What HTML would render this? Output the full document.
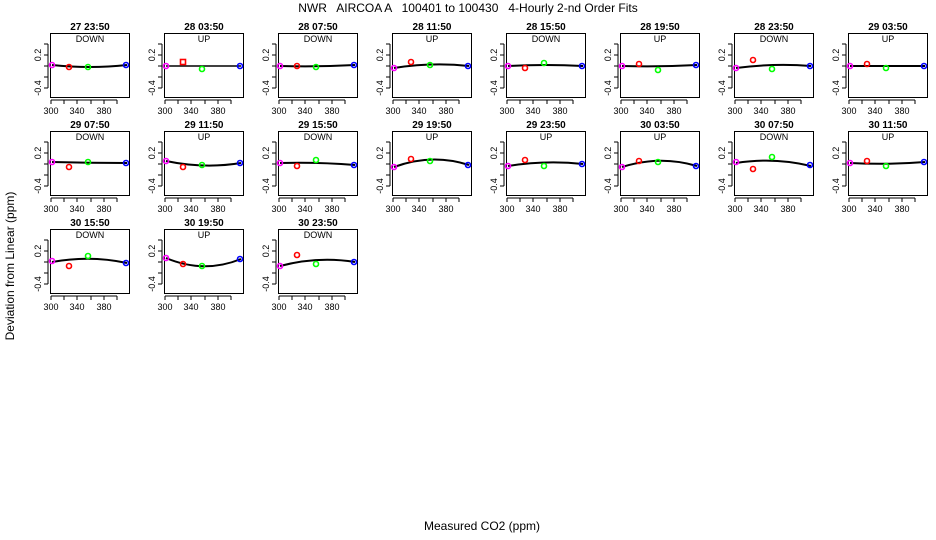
<!DOCTYPE html>
<html><head><meta charset="utf-8"><style>
body{margin:0;background:#fff}
svg{display:block;font-family:"Liberation Sans",sans-serif}
.t{font-size:10px;font-weight:bold;text-anchor:middle}
.s{font-size:9px;text-anchor:middle}
.k{font-size:9px;text-anchor:middle}
</style></head><body>
<svg width="936" height="540" viewBox="0 0 936 540">
<defs>
<g id="ax" fill="none" stroke="#000" stroke-width="1">
<rect x="0.5" y="0.5" width="79" height="64"/>
<path d="M-6,11H-2M-6,22H-2M-6,33H-2M-6,44H-2M-6,55H-2M-2,11V55"/>
<path d="M1,67V71M14,67V71M27,67V71M41,67V71M54,67V71M67,67V71M1,67H67"/>
</g>
<g id="lb" fill="#000" stroke="none">
<text class="k" x="1" y="81" fill="#000">300</text><text class="k" x="27" y="81" fill="#000">340</text><text class="k" x="54" y="81" fill="#000">380</text>
<text class="k" fill="#000" transform="translate(-9,22) rotate(-90)">0.2</text>
<text class="k" fill="#000" transform="translate(-9,55) rotate(-90)">-0.4</text>
</g>
</defs>
<text x="468" y="12" style="font-size:12px;white-space:pre" text-anchor="middle">NWR   AIRCOA A   100401 to 100430   4-Hourly 2-nd Order Fits</text>
<text transform="translate(14,266) rotate(-90)" style="font-size:12px" text-anchor="middle">Deviation from Linear (ppm)</text>
<text x="482" y="530" style="font-size:12px" text-anchor="middle">Measured CO2 (ppm)</text>

<g fill="none" stroke-width="1.6">
<g transform="translate(50,33)"><use href="#ax"/><use href="#lb"/><text class="t" x="40" y="-3" fill="#000" stroke="none">27 23:50</text><text class="s" x="40" y="9" stroke="none" fill="#000">DOWN</text><path d="M2,32Q40,36 77,32" stroke="#000" stroke-width="2"/><circle cx="2" cy="32" r="2.5" stroke="#f0f"/><circle cx="19" cy="34" r="2.5" stroke="#f00"/><circle cx="38" cy="34" r="2.5" stroke="#0f0"/><circle cx="76" cy="32" r="2.5" stroke="#00f"/></g>
<g transform="translate(164,33)"><use href="#ax"/><use href="#lb"/><text class="t" x="40" y="-3" fill="#000" stroke="none">28 03:50</text><text class="s" x="40" y="9" stroke="none" fill="#000">UP</text><path d="M2,33L77,33" stroke="#000" stroke-width="1.5"/><circle cx="2" cy="33" r="2.5" stroke="#f0f"/><rect x="16.5" y="26.5" width="5" height="5" stroke="#f00"/><circle cx="38" cy="36" r="2.5" stroke="#0f0"/><circle cx="76" cy="33" r="2.5" stroke="#00f"/></g>
<g transform="translate(278,33)"><use href="#ax"/><use href="#lb"/><text class="t" x="40" y="-3" fill="#000" stroke="none">28 07:50</text><text class="s" x="40" y="9" stroke="none" fill="#000">DOWN</text><path d="M2,33Q40,34 77,32" stroke="#000" stroke-width="2"/><circle cx="2" cy="33" r="2.5" stroke="#f0f"/><circle cx="19" cy="33" r="2.5" stroke="#f00"/><circle cx="38" cy="34" r="2.5" stroke="#0f0"/><circle cx="76" cy="32" r="2.5" stroke="#00f"/></g>
<g transform="translate(392,33)"><use href="#ax"/><use href="#lb"/><text class="t" x="40" y="-3" fill="#000" stroke="none">28 11:50</text><text class="s" x="40" y="9" stroke="none" fill="#000">UP</text><path d="M2,35Q40,29 77,33" stroke="#000" stroke-width="2"/><circle cx="2" cy="35" r="2.5" stroke="#f0f"/><circle cx="19" cy="29" r="2.5" stroke="#f00"/><circle cx="38" cy="32" r="2.5" stroke="#0f0"/><circle cx="76" cy="33" r="2.5" stroke="#00f"/></g>
<g transform="translate(506,33)"><use href="#ax"/><use href="#lb"/><text class="t" x="40" y="-3" fill="#000" stroke="none">28 15:50</text><text class="s" x="40" y="9" stroke="none" fill="#000">DOWN</text><path d="M2,33Q40,31 77,33" stroke="#000" stroke-width="2"/><circle cx="2" cy="33" r="2.5" stroke="#f0f"/><circle cx="19" cy="35" r="2.5" stroke="#f00"/><circle cx="38" cy="30" r="2.5" stroke="#0f0"/><circle cx="76" cy="33" r="2.5" stroke="#00f"/></g>
<g transform="translate(620,33)"><use href="#ax"/><use href="#lb"/><text class="t" x="40" y="-3" fill="#000" stroke="none">28 19:50</text><text class="s" x="40" y="9" stroke="none" fill="#000">UP</text><path d="M2,33Q40,34 77,32" stroke="#000" stroke-width="2"/><circle cx="2" cy="33" r="2.5" stroke="#f0f"/><circle cx="19" cy="31" r="2.5" stroke="#f00"/><circle cx="38" cy="37" r="2.5" stroke="#0f0"/><circle cx="76" cy="32" r="2.5" stroke="#00f"/></g>
<g transform="translate(734,33)"><use href="#ax"/><use href="#lb"/><text class="t" x="40" y="-3" fill="#000" stroke="none">28 23:50</text><text class="s" x="40" y="9" stroke="none" fill="#000">DOWN</text><path d="M2,35Q40,30 77,33" stroke="#000" stroke-width="2"/><circle cx="2" cy="35" r="2.5" stroke="#f0f"/><circle cx="19" cy="27" r="2.5" stroke="#f00"/><circle cx="38" cy="36" r="2.5" stroke="#0f0"/><circle cx="76" cy="33" r="2.5" stroke="#00f"/></g>
<g transform="translate(848,33)"><use href="#ax"/><use href="#lb"/><text class="t" x="40" y="-3" fill="#000" stroke="none">29 03:50</text><text class="s" x="40" y="9" stroke="none" fill="#000">UP</text><path d="M2,33Q40,33 77,33" stroke="#000" stroke-width="2"/><circle cx="2" cy="33" r="2.5" stroke="#f0f"/><circle cx="19" cy="31" r="2.5" stroke="#f00"/><circle cx="38" cy="35" r="2.5" stroke="#0f0"/><circle cx="76" cy="33" r="2.5" stroke="#00f"/></g>
<g transform="translate(50,131)"><use href="#ax"/><use href="#lb"/><text class="t" x="40" y="-3" fill="#000" stroke="none">29 07:50</text><text class="s" x="40" y="9" stroke="none" fill="#000">DOWN</text><path d="M2,31Q40,32 77,32" stroke="#000" stroke-width="2"/><circle cx="2" cy="31" r="2.5" stroke="#f0f"/><circle cx="19" cy="36" r="2.5" stroke="#f00"/><circle cx="38" cy="31" r="2.5" stroke="#0f0"/><circle cx="76" cy="32" r="2.5" stroke="#00f"/></g>
<g transform="translate(164,131)"><use href="#ax"/><use href="#lb"/><text class="t" x="40" y="-3" fill="#000" stroke="none">29 11:50</text><text class="s" x="40" y="9" stroke="none" fill="#000">UP</text><path d="M2,30Q40,38 77,32" stroke="#000" stroke-width="2"/><circle cx="2" cy="30" r="2.5" stroke="#f0f"/><circle cx="19" cy="36" r="2.5" stroke="#f00"/><circle cx="38" cy="34" r="2.5" stroke="#0f0"/><circle cx="76" cy="32" r="2.5" stroke="#00f"/></g>
<g transform="translate(278,131)"><use href="#ax"/><use href="#lb"/><text class="t" x="40" y="-3" fill="#000" stroke="none">29 15:50</text><text class="s" x="40" y="9" stroke="none" fill="#000">DOWN</text><path d="M2,32Q40,31 77,34" stroke="#000" stroke-width="2"/><circle cx="2" cy="32" r="2.5" stroke="#f0f"/><circle cx="19" cy="35" r="2.5" stroke="#f00"/><circle cx="38" cy="29" r="2.5" stroke="#0f0"/><circle cx="76" cy="34" r="2.5" stroke="#00f"/></g>
<g transform="translate(392,131)"><use href="#ax"/><use href="#lb"/><text class="t" x="40" y="-3" fill="#000" stroke="none">29 19:50</text><text class="s" x="40" y="9" stroke="none" fill="#000">UP</text><path d="M2,36Q40,22 77,34" stroke="#000" stroke-width="2"/><circle cx="2" cy="36" r="2.5" stroke="#f0f"/><circle cx="19" cy="28" r="2.5" stroke="#f00"/><circle cx="38" cy="30" r="2.5" stroke="#0f0"/><circle cx="76" cy="34" r="2.5" stroke="#00f"/></g>
<g transform="translate(506,131)"><use href="#ax"/><use href="#lb"/><text class="t" x="40" y="-3" fill="#000" stroke="none">29 23:50</text><text class="s" x="40" y="9" stroke="none" fill="#000">UP</text><path d="M2,35Q40,29 77,33" stroke="#000" stroke-width="2"/><circle cx="2" cy="35" r="2.5" stroke="#f0f"/><circle cx="19" cy="29" r="2.5" stroke="#f00"/><circle cx="38" cy="35" r="2.5" stroke="#0f0"/><circle cx="76" cy="33" r="2.5" stroke="#00f"/></g>
<g transform="translate(620,131)"><use href="#ax"/><use href="#lb"/><text class="t" x="40" y="-3" fill="#000" stroke="none">30 03:50</text><text class="s" x="40" y="9" stroke="none" fill="#000">UP</text><path d="M2,36Q40,24 77,35" stroke="#000" stroke-width="2"/><circle cx="2" cy="36" r="2.5" stroke="#f0f"/><circle cx="19" cy="30" r="2.5" stroke="#f00"/><circle cx="38" cy="31" r="2.5" stroke="#0f0"/><circle cx="76" cy="35" r="2.5" stroke="#00f"/></g>
<g transform="translate(734,131)"><use href="#ax"/><use href="#lb"/><text class="t" x="40" y="-3" fill="#000" stroke="none">30 07:50</text><text class="s" x="40" y="9" stroke="none" fill="#000">DOWN</text><path d="M2,32Q40,26 77,35" stroke="#000" stroke-width="2"/><circle cx="2" cy="31" r="2.5" stroke="#f0f"/><circle cx="19" cy="38" r="2.5" stroke="#f00"/><circle cx="38" cy="26" r="2.5" stroke="#0f0"/><circle cx="76" cy="34" r="2.5" stroke="#00f"/></g>
<g transform="translate(848,131)"><use href="#ax"/><use href="#lb"/><text class="t" x="40" y="-3" fill="#000" stroke="none">30 11:50</text><text class="s" x="40" y="9" stroke="none" fill="#000">UP</text><path d="M2,32Q40,34 77,31" stroke="#000" stroke-width="2"/><circle cx="2" cy="32" r="2.5" stroke="#f0f"/><circle cx="19" cy="30" r="2.5" stroke="#f00"/><circle cx="38" cy="35" r="2.5" stroke="#0f0"/><circle cx="76" cy="31" r="2.5" stroke="#00f"/></g>
<g transform="translate(50,229)"><use href="#ax"/><use href="#lb"/><text class="t" x="40" y="-3" fill="#000" stroke="none">30 15:50</text><text class="s" x="40" y="9" stroke="none" fill="#000">DOWN</text><path d="M2,33Q40,26 77,34" stroke="#000" stroke-width="2"/><circle cx="2" cy="32" r="2.5" stroke="#f0f"/><circle cx="19" cy="37" r="2.5" stroke="#f00"/><circle cx="38" cy="27" r="2.5" stroke="#0f0"/><circle cx="76" cy="34" r="2.5" stroke="#00f"/></g>
<g transform="translate(164,229)"><use href="#ax"/><use href="#lb"/><text class="t" x="40" y="-3" fill="#000" stroke="none">30 19:50</text><text class="s" x="40" y="9" stroke="none" fill="#000">UP</text><path d="M2,29Q40,45 77,30" stroke="#000" stroke-width="2"/><circle cx="2" cy="29" r="2.5" stroke="#f0f"/><circle cx="19" cy="35" r="2.5" stroke="#f00"/><circle cx="38" cy="37" r="2.5" stroke="#0f0"/><circle cx="76" cy="30" r="2.5" stroke="#00f"/></g>
<g transform="translate(278,229)"><use href="#ax"/><use href="#lb"/><text class="t" x="40" y="-3" fill="#000" stroke="none">30 23:50</text><text class="s" x="40" y="9" stroke="none" fill="#000">DOWN</text><path d="M2,37Q40,27 77,33" stroke="#000" stroke-width="2"/><circle cx="2" cy="37" r="2.5" stroke="#f0f"/><circle cx="19" cy="26" r="2.5" stroke="#f00"/><circle cx="38" cy="35" r="2.5" stroke="#0f0"/><circle cx="76" cy="33" r="2.5" stroke="#00f"/></g>
</g>
</svg>
</body></html>
